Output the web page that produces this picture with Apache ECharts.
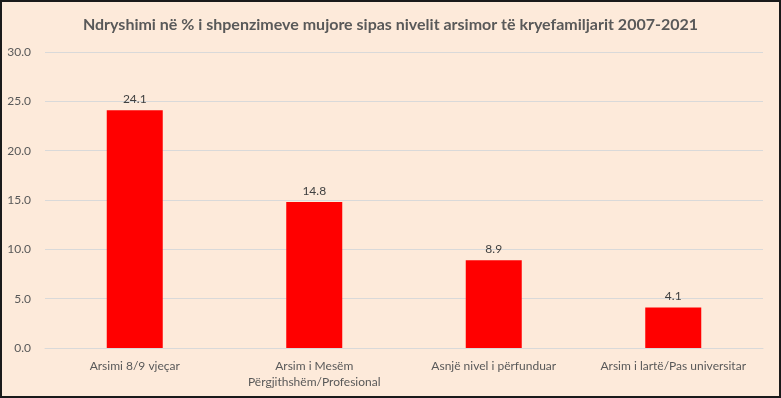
<!DOCTYPE html>
<html>
<head>
<meta charset="utf-8">
<script src="https://cdn.jsdelivr.net/npm/echarts@6/dist/echarts.min.js"></script>
<style>
  html, body { margin: 0; padding: 0; }
  #main {
    width: 781px; height: 398px; box-sizing: border-box;
    border: 2px solid #1a1a1a; background: #fdeada;
  }
</style>
</head>
<body>
<div id="main"></div>
<script>
// 類別與數值
const categories = ['Arsimi 8/9 vjeçar', 'Arsim i Mesëm\nPërgjithshëm/Profesional', 'Asnjë nivel i përfunduar', 'Arsim i lartë/Pas universitar'];
const values = [24.1, 14.8, 8.9, 4.1];
const titleText = 'Ndryshimi në % i shpenzimeve mujore sipas nivelit arsimor të kryefamiljarit 2007-2021';

const myChart = echarts.init(document.getElementById('main'));
const option = {
  backgroundColor: '#fdeada',
  textStyle: { fontFamily: 'Lato' },
  title: {
    text: titleText,
    left: 'center',
    top: 10,
    textStyle: { color: '#595959', fontSize: 16, fontWeight: 'bold', fontFamily: 'Lato' },
  },
  grid: { left: 43, right: 16, top: 50, bottom: 48 },
  xAxis: {
    type: 'category',
    data: categories,
    axisTick: { show: false },
    axisLine: { lineStyle: { color: '#d9d9d9' } },
    axisLabel: { color: '#595959', fontSize: 12, lineHeight: 16, margin: 10, interval: 0 },
  },
  yAxis: {
    type: 'value',
    min: 0,
    max: 30,
    interval: 5,
    axisLabel: { color: '#595959', fontSize: 12, margin: 14, formatter: v => v.toFixed(1) },
    splitLine: { lineStyle: { color: '#d9d9d9' } },
  },
  series: [
    {
      type: 'bar',
      data: values,
      barWidth: 56,
      itemStyle: { color: '#ff0000' },
      label: {
        show: true,
        position: 'top',
        color: '#404040',
        fontSize: 12,
        formatter: p => p.value.toFixed(1),
      },
    },
  ],
};
myChart.setOption(option);
</script>
</body>
</html>
